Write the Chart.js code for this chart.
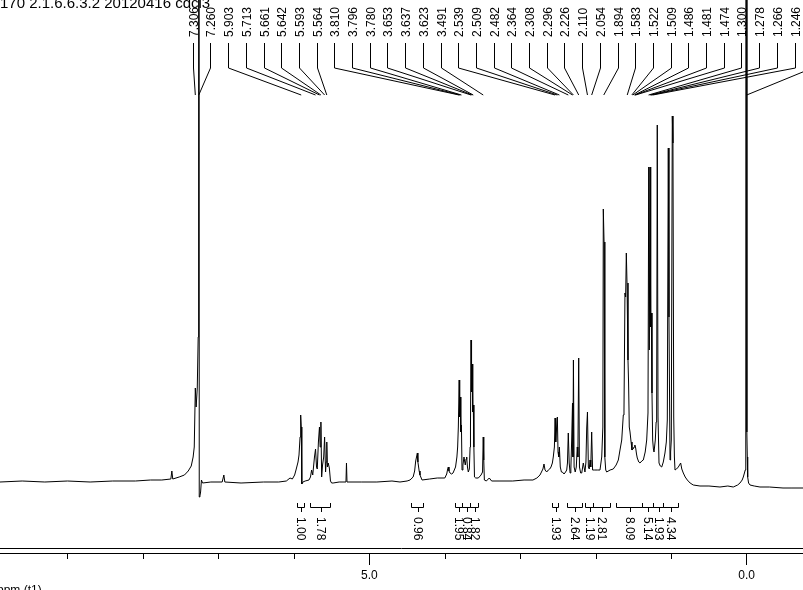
<!DOCTYPE html>
<html>
<head>
<meta charset="utf-8">
<script src="https://cdn.jsdelivr.net/npm/chart.js@4.4.0/dist/chart.umd.min.js"></script>
<style>
  html, body { margin: 0; padding: 0; background: #fff; }
  canvas { display: block; }
</style>
</head>
<body>
<canvas id="nmr" width="803" height="590"></canvas>
<script>
// 1H NMR spectrum (CDCl3), ppm / intensity
var shiftPpm = [
  9.894, 9.60, 9.30, 9.00, 8.70, 8.40, 8.10, 7.90, 7.75, 7.63, 7.617, 7.605, 7.52, 7.45, 7.40, 7.36, 7.335, 7.32,
  7.306, 7.295, 7.28, 7.268, 7.262, 7.254, 7.245, 7.236, 7.225, 7.21, 7.10, 6.95, 6.928, 6.915, 6.70, 6.40, 6.20,
  6.10, 6.051, 6.02, 5.99, 5.972, 5.945, 5.932, 5.918, 5.910, 5.902, 5.895, 5.88, 5.85, 5.80, 5.78, 5.765, 5.75,
  5.727, 5.713, 5.700, 5.690, 5.675, 5.661, 5.652, 5.642, 5.632, 5.620, 5.605, 5.593, 5.580, 5.572, 5.564, 5.556,
  5.545, 5.53, 5.515, 5.50, 5.48, 5.40, 5.31, 5.303, 5.296, 5.10, 4.90, 4.70, 4.594, 4.50, 4.461, 4.42, 4.40, 4.386,
  4.375, 4.364, 4.357, 4.351, 4.340, 4.329, 4.302, 4.20, 4.10, 4.00, 3.975, 3.962, 3.954, 3.945, 3.931, 3.91, 3.891,
  3.858, 3.840, 3.830, 3.821, 3.810, 3.803, 3.796, 3.788, 3.780, 3.772, 3.760, 3.746, 3.738, 3.729, 3.718, 3.710,
  3.700, 3.689, 3.675, 3.665, 3.660, 3.653, 3.646, 3.637, 3.630, 3.623, 3.615, 3.607, 3.59, 3.556, 3.52, 3.500,
  3.491, 3.484, 3.476, 3.45, 3.411, 3.38, 3.269, 3.10, 2.95, 2.832, 2.78, 2.739, 2.70, 2.686, 2.672, 2.650, 2.629,
  2.610, 2.593, 2.575, 2.563, 2.548, 2.539, 2.530, 2.520, 2.509, 2.500, 2.490, 2.482, 2.470, 2.455, 2.443, 2.420,
  2.400, 2.385, 2.375, 2.364, 2.352, 2.340, 2.330, 2.319, 2.308, 2.302, 2.296, 2.287, 2.272, 2.258, 2.245, 2.237,
  2.226, 2.216, 2.200, 2.186, 2.165, 2.143, 2.130, 2.120, 2.110, 2.098, 2.086, 2.076, 2.066, 2.054, 2.042, 2.020,
  1.980, 1.944, 1.921, 1.906, 1.900, 1.890, 1.880, 1.868, 1.855, 1.810, 1.768, 1.730, 1.701, 1.679, 1.656, 1.635,
  1.626, 1.613, 1.604, 1.595, 1.586, 1.573, 1.565, 1.556, 1.546, 1.532, 1.520, 1.505, 1.493, 1.482, 1.471, 1.460,
  1.450, 1.430, 1.414, 1.390, 1.370, 1.345, 1.325, 1.308, 1.298, 1.291, 1.281, 1.272, 1.264, 1.255, 1.246, 1.236,
  1.228, 1.211, 1.200, 1.193, 1.185, 1.175, 1.162, 1.145, 1.126, 1.105, 1.083, 1.065, 1.052, 1.039, 1.030, 1.016,
  1.008, 0.999, 0.986, 0.977, 0.967, 0.958, 0.950, 0.930, 0.906, 0.890, 0.875, 0.860, 0.840, 0.815, 0.787, 0.750,
  0.708, 0.619, 0.50, 0.354, 0.25, 0.178, 0.12, 0.089, 0.060, 0.045, 0.030, 0.019, 0.012, 0.006, -0.002, -0.008,
  -0.013, -0.025, -0.044, -0.10, -0.176, -0.30, -0.481, -0.60, -0.746
];
var intensity = [
  5, 6, 5, 6, 5, 6, 6, 7, 7, 8, 16, 8, 10, 12, 16, 21, 30, 40,
  99, 80, 99, 150, 3000, -10, -9, -5, 7, 4, 5, 5, 12, 5, 4, 5, 5,
  6, 9, 8, 12, 17, 25, 32, 50, 72, 60, 3, 5, 6, 7, 10, 17, 12,
  30, 38, 20, 18, 45, 60, 40, 65, 10, 22, 30, 50, 15, 25, 45, 20,
  24, 19, 6, 4, 4, 5, 5, 24, 5, 5, 5, 6, 5, 6, 7, 10, 16, 26,
  30, 34, 25, 22, 16, 12, 7, 8, 9, 9, 13, 18, 20, 16, 14, 13, 14,
  20, 30, 40, 60, 107, 70, 90, 55, 62, 17, 22, 30, 26, 22, 28, 30,
  20, 15, 18, 40, 60, 147, 95, 123, 75, 82, 40, 10, 9, 9, 12, 15,
  50, 27, 7, 6, 9, 6, 6, 6, 7, 7, 9, 12, 18, 23, 17, 15, 17,
  18, 20, 24, 30, 40, 69, 45, 58, 70, 35, 30, 40, 20, 15, 15, 13,
  15, 17, 24, 54, 24, 14, 18, 47, 84, 30, 127, 20, 15, 20, 40, 30,
  129, 20, 14, 14, 24, 15, 25, 59, 75, 20, 18, 27, 20, 55, 17, 17,
  17, 17, 30, 60, 278, 245, 30, 17, 15, 17, 18, 22, 27, 37, 47, 72,
  77, 194, 190, 234, 204, 127, 104, 60, 55, 45, 37, 38, 40, 42, 39, 33,
  29, 25, 24, 26, 27, 35, 47, 74, 320, 137, 320, 160, 174, 94, 47, 38,
  35, 47, 65, 80, 362, 70, 24, 21, 20, 25, 34, 45, 67, 339, 170, 27,
  35, 47, 371, 344, 70, 30, 17, 18, 20, 22, 24, 18, 14, 10, 7, 4,
  2, 1, 1, 0, 1, 0, 2, 4, 7, 10, 14, 17, 40, 3000, 55, 30,
  10, 4, 2, 1, 0, 0, -1, -1, -1
];

// picked peaks (labels along the top)
var peakLabels = [
  7.306, 7.260, 5.903, 5.713, 5.661, 5.642, 5.593, 5.564, 3.810, 3.796, 3.780, 3.653, 3.637, 3.623, 3.491,
  2.539, 2.509, 2.482, 2.364, 2.308, 2.296, 2.226, 2.110, 2.054, 1.894, 1.583, 1.522, 1.509, 1.486, 1.481,
  1.474, 1.300, 1.278, 1.266, 1.246, 0.000
];

// integrals: region start / end (ppm) and value
var intFrom = [5.963, 5.786, 4.448, 3.865, 3.776, 3.666, 2.584, 2.385, 2.143, 2.033, 1.732, 1.391, 1.238, 1.105];
var intTo   = [5.866, 5.521, 4.285, 3.776, 3.666, 3.556, 2.496, 2.186, 2.033, 1.811, 1.391, 1.238, 1.105, 0.906];
var intVal  = [1.00, 1.78, 0.96, 1.95, 0.84, 1.82, 1.93, 2.64, 1.19, 2.81, 8.09, 5.14, 1.93, 4.34];

var xTicks = [0, 5];

var FONT = '12px "Liberation Sans", Arial, sans-serif';

var points = [];
for (let i = 0; i < shiftPpm.length; i++) {
    points.push({x: shiftPpm[i], y: intensity[i]});
}

var decor = {
    id: 'decor',
    afterDraw: function(chart) {
        var ctx = chart.ctx;
        var xs = chart.scales.x;
        var area = chart.chartArea;
        ctx.save();
        ctx.strokeStyle = '#000';
        ctx.fillStyle = '#000';
        ctx.lineWidth = 1;
        ctx.font = FONT;

        // second axis line above the scale border
        ctx.beginPath();
        ctx.moveTo(0, area.bottom - 4.5);
        ctx.lineTo(chart.width, area.bottom - 4.5);
        ctx.stroke();

        // minor ticks every 1 ppm
        xs.ticks.forEach(function(t) {
            if (xTicks.indexOf(t.value) >= 0) return;
            var px = Math.round(xs.getPixelForValue(t.value)) + 0.5;
            ctx.beginPath();
            ctx.moveTo(px, area.bottom);
            ctx.lineTo(px, area.bottom + 6);
            ctx.stroke();
        });

        // axis name
        ctx.textAlign = 'left';
        ctx.textBaseline = 'top';
        ctx.fillText('ppm (t1)', -3, 585);

        // peak labels with leader lines
        var step = 17.7, start = 192.7;
        peakLabels.forEach(function(p, i) {
            var lx = Math.round(start + i * step) + 0.5;
            var px = xs.getPixelForValue(p);
            ctx.beginPath();
            ctx.moveTo(lx, 43);
            ctx.lineTo(lx, 68);
            ctx.lineTo(px, 95);
            ctx.stroke();
            ctx.save();
            ctx.translate(lx + 1, 37);
            ctx.rotate(-Math.PI / 2);
            ctx.textBaseline = 'middle';
            ctx.fillText(p.toFixed(3), 0, 0);
            ctx.restore();
        });

        // title (drawn over the first labels, as in the original)
        ctx.font = '15px "Liberation Sans", Arial, sans-serif';
        ctx.textBaseline = 'alphabetic';
        ctx.fillText('170 2.1.6.6.3.2 20120416 cdcl3', 0, 8);
        ctx.font = FONT;

        // integrals
        for (let i = 0; i < intVal.length; i++) {
            var x1 = Math.round(xs.getPixelForValue(intFrom[i])) + 0.5;
            var x2 = Math.round(xs.getPixelForValue(intTo[i])) + 0.5;
            var cx = Math.round((x1 + x2) / 2) + 0.5;
            ctx.beginPath();
            ctx.moveTo(x1, 503);
            ctx.lineTo(x1, 507.5);
            ctx.lineTo(x2, 507.5);
            ctx.lineTo(x2, 503);
            ctx.moveTo(cx, 507.5);
            ctx.lineTo(cx, 512);
            ctx.stroke();
            ctx.save();
            ctx.translate(cx - 1, 517);
            ctx.rotate(Math.PI / 2);
            ctx.textBaseline = 'middle';
            ctx.fillText(intVal[i].toFixed(2), 0, 0);
            ctx.restore();
        }
        ctx.restore();
    }
};

var chart = new Chart(document.getElementById('nmr'), {
    type: 'line',
    data: {
        datasets: [{
            data: points,
            borderColor: '#000',
            borderWidth: 1,
            pointRadius: 0,
            tension: 0,
            fill: false
        }]
    },
    options: {
        responsive: false,
        animation: false,
        devicePixelRatio: 1,
        layout: {padding: 0},
        plugins: {legend: {display: false}, tooltip: {enabled: false}},
        scales: {
            x: {
                type: 'linear',
                reverse: true,
                min: -0.746,
                max: 9.894,
                afterFit: function(s) { s.height = 37; },
                border: {display: true, color: '#000', width: 1},
                grid: {
                    drawOnChartArea: false,
                    tickLength: 12,
                    tickColor: function(c) {
                        return c.tick && xTicks.indexOf(c.tick.value) >= 0 ? '#000' : 'rgba(0,0,0,0)';
                    }
                },
                ticks: {
                    stepSize: 1,
                    autoSkip: false,
                    maxRotation: 0,
                    includeBounds: false,
                    color: '#000',
                    font: {family: '"Liberation Sans", Arial, sans-serif', size: 12},
                    callback: function(v) { return xTicks.indexOf(v) >= 0 ? v.toFixed(1) : ''; }
                }
            },
            y: {
                display: false,
                min: -66,
                max: 487
            }
        }
    },
    plugins: [decor]
});
</script>
</body>
</html>
